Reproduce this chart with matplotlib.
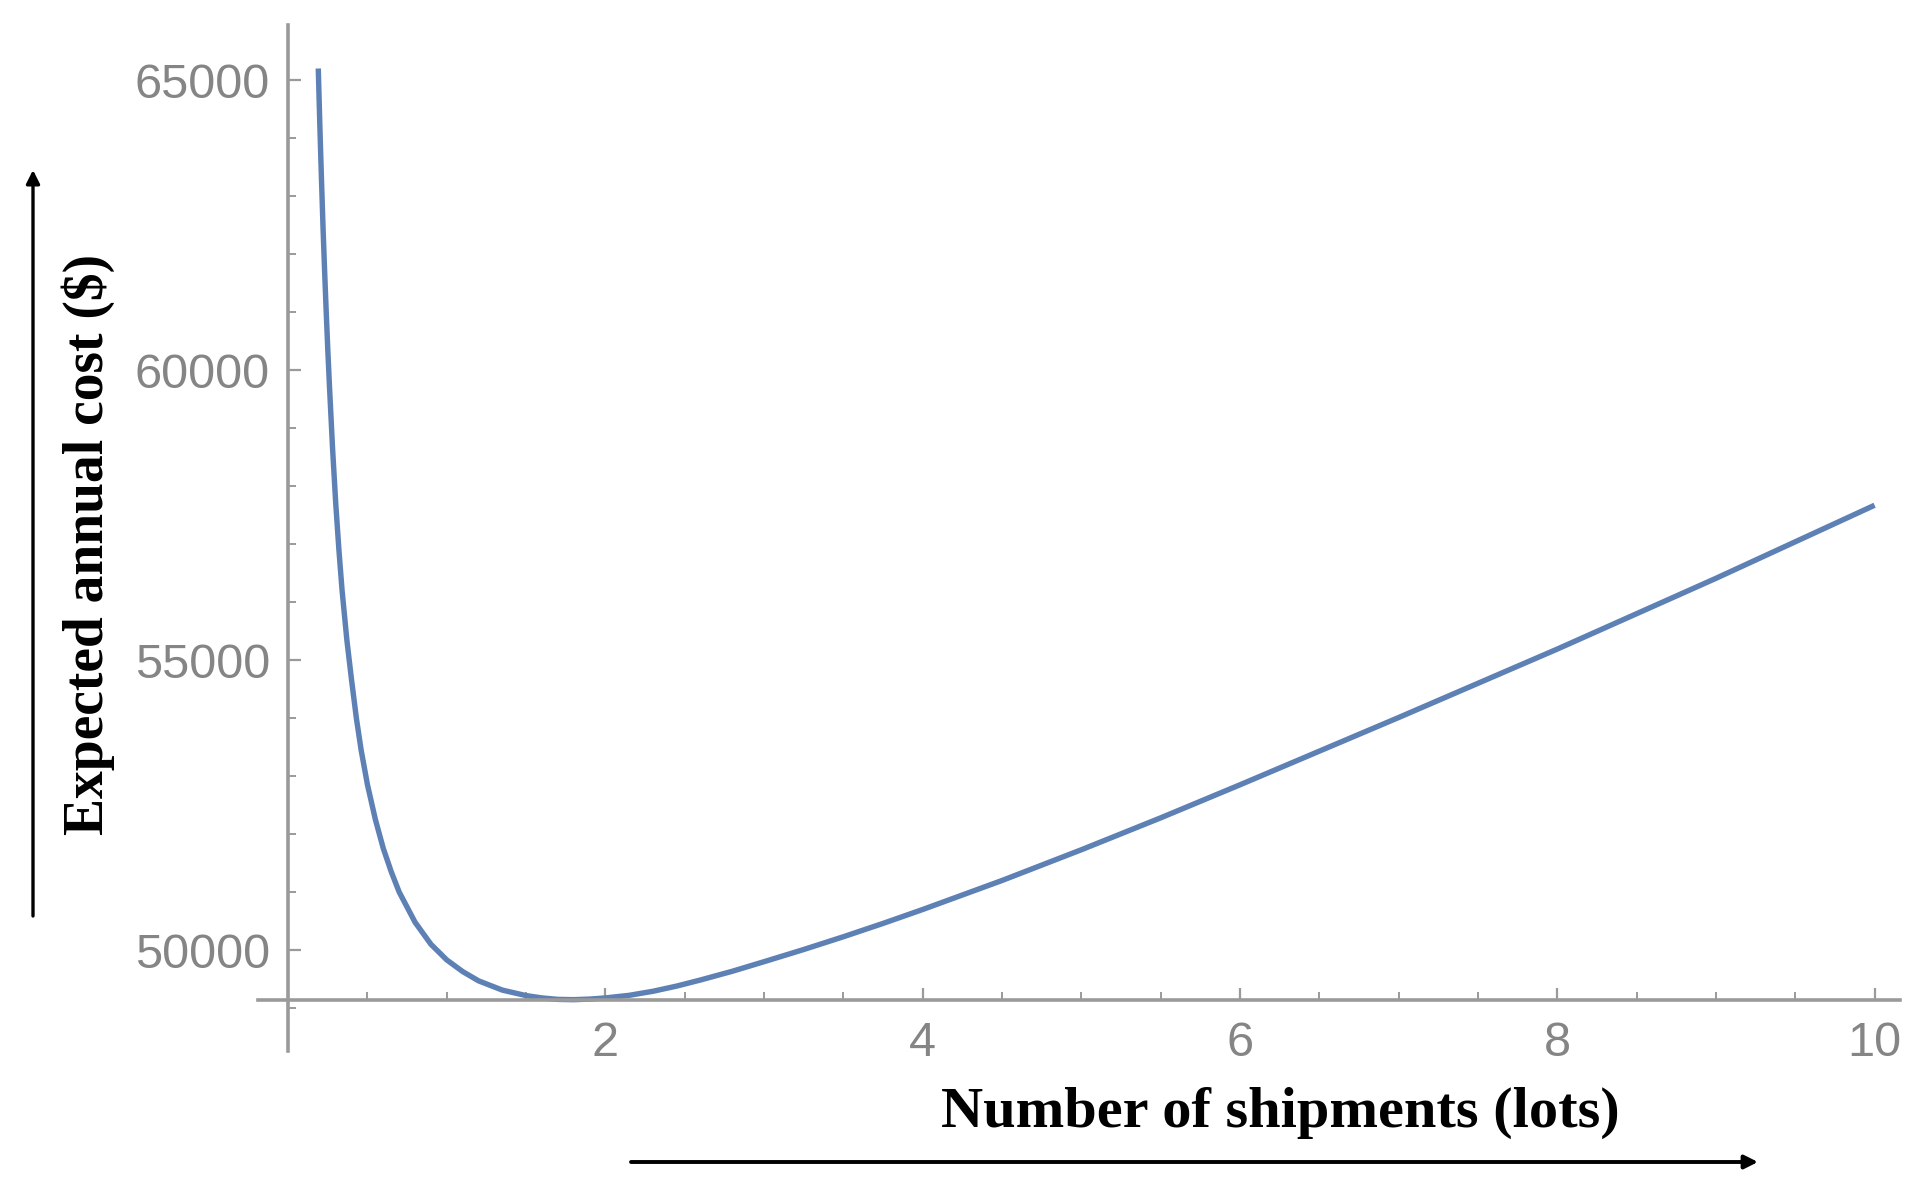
import numpy as np
import matplotlib
matplotlib.use("Agg")
import matplotlib.pyplot as plt
from matplotlib.ticker import MultipleLocator, FixedLocator

# values
shipments = [0.19, 0.195, 0.20, 0.21, 0.22, 0.23, 0.24, 0.25, 0.26, 0.28,
             0.30, 0.32, 0.34, 0.37, 0.40, 0.43, 0.46, 0.50, 0.55, 0.60,
             0.65, 0.70, 0.80, 0.90, 1.00, 1.10, 1.20, 1.35, 1.50, 1.60,
             1.70, 1.80, 1.90, 2.00, 2.15, 2.30, 2.45, 2.60, 2.80, 3.00,
             3.25, 3.50, 3.75, 4.00, 4.50, 5.00, 5.50, 6.00, 7.00, 8.00,
             9.00, 10.0]
annual_cost = [65200, 64700, 64200, 63300, 62450, 61700, 61000, 60350, 59750, 58650,
               57700, 56900, 56200, 55350, 54650, 54000, 53450, 52850, 52250, 51750,
               51350, 51000, 50480, 50100, 49830, 49630, 49470, 49310, 49215, 49175,
               49150, 49145, 49155, 49175, 49220, 49290, 49380, 49485, 49635, 49800,
               50010, 50230, 50460, 50700, 51200, 51730, 52280, 52850, 54010, 55190,
               56410, 57670]

x_ticks = [2, 4, 6, 8, 10]
y_ticks = [50000, 55000, 60000, 65000]
axis_origin = (0, 49140)

W, H = 1928, 1199
fig = plt.figure(figsize=(W / 100, H / 100), dpi=100)
ax = fig.add_axes([258 / W, (H - 1051) / H, (1900 - 258) / W, (1051 - 25) / H])

ax.plot(shipments, annual_cost, color="#5E81B5", lw=3.9,
        solid_capstyle="butt", solid_joinstyle="round")

ax.set_xlim(-0.19, 10.16)
ax.set_ylim(48260, 65950)

grey = "#9a9a9a"
for s in ["top", "right"]:
    ax.spines[s].set_visible(False)
ax.spines["left"].set_position(("data", axis_origin[0]))
ax.spines["bottom"].set_position(("data", axis_origin[1]))
for s in ["left", "bottom"]:
    ax.spines[s].set_color(grey)
    ax.spines[s].set_linewidth(2.6)

ax.xaxis.set_major_locator(FixedLocator(x_ticks))
ax.xaxis.set_minor_locator(MultipleLocator(0.5))
ax.yaxis.set_major_locator(FixedLocator(y_ticks))
ax.yaxis.set_minor_locator(MultipleLocator(1000))

ax.tick_params(axis="both", which="major", direction="in", length=9, width=1.6,
               color=grey, labelcolor="#858585", labelsize=35)
ax.tick_params(axis="both", which="minor", direction="in", length=6, width=1.4, color=grey)
ax.tick_params(axis="x", which="major", pad=15)
ax.tick_params(axis="y", which="major", pad=13)
for lab in ax.get_xticklabels() + ax.get_yticklabels():
    lab.set_fontfamily("Liberation Sans")

# axis titles with arrows
fig.text(88 / W, 1 - 544 / H, "Expected annual cost ($)", rotation=90,
         ha="center", va="center", fontsize=40, fontweight="bold",
         family="Liberation Serif")
fig.text(1280 / W, 1 - 1113 / H, "Number of shipments (lots)",
         ha="center", va="center", fontsize=42, fontweight="bold",
         family="Liberation Serif")

ax.annotate("", xy=(33, H - 170), xytext=(33, H - 916),
            xycoords="figure pixels", textcoords="figure pixels",
            arrowprops=dict(arrowstyle="-|>", color="black", lw=2.4,
                            mutation_scale=20, shrinkA=0, shrinkB=0))
ax.annotate("", xy=(1758, 37), xytext=(631, 37),
            xycoords="figure pixels", textcoords="figure pixels",
            arrowprops=dict(arrowstyle="-|>", color="black", lw=2.8,
                            mutation_scale=20, shrinkA=0, shrinkB=0))

fig.savefig("out.png", dpi=100, facecolor="white")
